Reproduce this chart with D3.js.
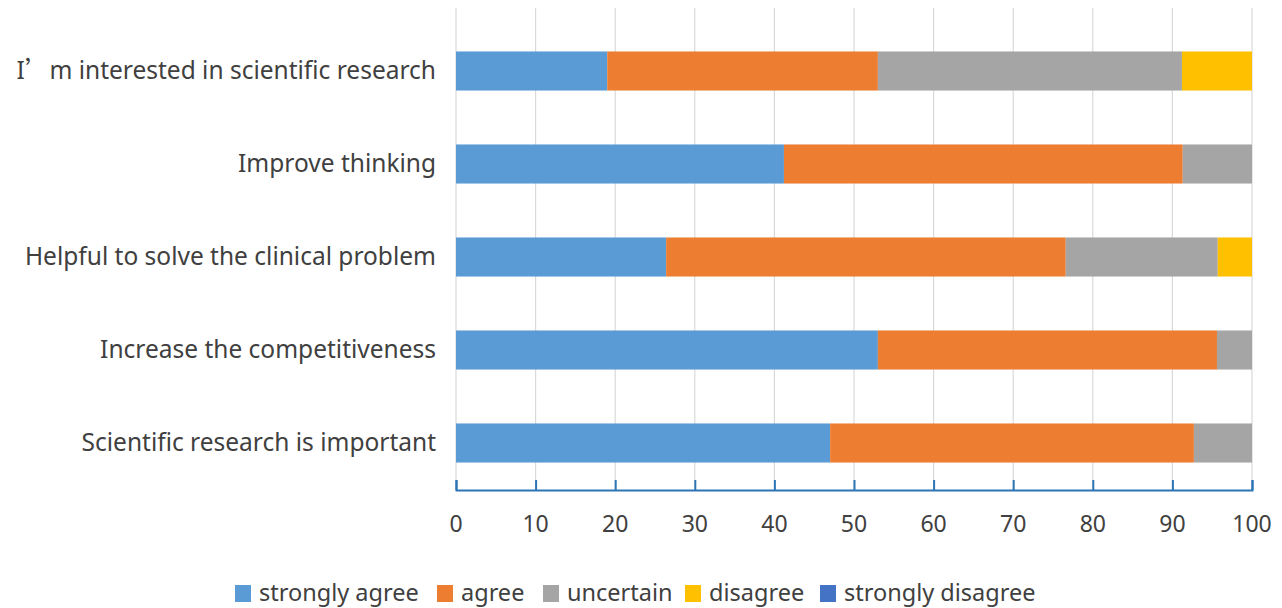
<!DOCTYPE html>
<html><head><meta charset="utf-8">
<script src="https://cdn.jsdelivr.net/npm/d3@7"></script>
<style>body{margin:0;background:#fff;} text{font-family:"Noto Sans","Open Sans",sans-serif;fill:#404040;}</style>
</head><body><svg id="c" width="1282" height="608"></svg>
<script>
const categories = ["I’m interested in scientific research","Improve thinking","Helpful to solve the clinical problem","Increase the competitiveness","Scientific research is important"];
const seriesNames = ["strongly agree","agree","uncertain","disagree","strongly disagree"];
const stronglyAgree = [19.0, 41.2, 26.4, 53.0, 47.0];
const agree = [34.0, 50.1, 50.2, 42.6, 45.7];
const uncertain = [38.2, 8.7, 19.1, 4.4, 7.3];
const disagree = [8.8, 0, 4.3, 0, 0];
const stronglyDisagree = [0, 0, 0, 0, 0];
const tickValues = [0,10,20,30,40,50,60,70,80,90,100];
const colors = ["#5B9BD5","#ED7D31","#A5A5A5","#FFC000","#4472C4"];

const svg = d3.select("#c");
const x = d3.scaleLinear().domain([0,100]).range([456,1252]);
const y = d3.scaleBand().domain(categories).range([24.5,489.5]).paddingInner(0.58).paddingOuter(0.29);
const color = d3.scaleOrdinal().domain(seriesNames).range(colors);

// gridlines
svg.append("g").selectAll("line").data(tickValues).join("line")
  .attr("x1",d=>x(d)).attr("x2",d=>x(d)).attr("y1",8).attr("y2",490)
  .attr("stroke","#d9d9d9").attr("stroke-width",1.2);

const table = categories.map((c,i)=>({cat:c,"strongly agree":stronglyAgree[i],"agree":agree[i],"uncertain":uncertain[i],"disagree":disagree[i],"strongly disagree":stronglyDisagree[i]}));
const stack = d3.stack().keys(seriesNames)(table);
svg.append("g").selectAll("g").data(stack).join("g").attr("fill",d=>color(d.key))
  .selectAll("rect").data(d=>d).join("rect")
  .attr("x",d=>x(d[0])).attr("width",d=>x(d[1])-x(d[0]))
  .attr("y",d=>y(d.data.cat)).attr("height",y.bandwidth());

// x axis
const ax = svg.append("g").attr("transform","translate(0,490)")
  .call(d3.axisTop(x).tickValues(tickValues).tickSize(10).tickFormat(""));
ax.select(".domain").attr("stroke","#2E75B6").attr("stroke-width",2);
ax.selectAll(".tick line").attr("stroke","#2E75B6").attr("stroke-width",2);
svg.append("g").selectAll("text").data(tickValues).join("text")
  .attr("x",d=>x(d)).attr("y",532).attr("text-anchor","middle")
  .style("font-size","23px").text(d=>d);

// category labels
const lab = svg.append("g").selectAll("text").data(categories).join("text")
  .attr("x",436).attr("y",d=>y(d)+y.bandwidth()/2+8).attr("text-anchor","end")
  .style("font-size","24.5px");
lab.each(function(d){
  const t = d3.select(this);
  if(d.indexOf("’")>=0){
    const parts = d.split("’");
    t.append("tspan").style("font-family","'Noto Sans'").text(parts[0]);
    t.append("tspan").style("font-family","'Noto Sans CJK SC'").text("’");
    t.append("tspan").style("font-family","'Noto Sans'").text(parts[1]);
  } else t.text(d);
});

// legend
const legendX = [235,437,543,685,820];
const lg = svg.append("g").selectAll("g").data(seriesNames).join("g")
  .attr("transform",(d,i)=>`translate(${legendX[i]},585)`);
lg.append("rect").attr("width",16).attr("height",17).attr("fill",d=>color(d));
lg.append("text").attr("x",24).attr("y",16).style("font-size","23.5px").text(d=>d);
</script></body></html>
